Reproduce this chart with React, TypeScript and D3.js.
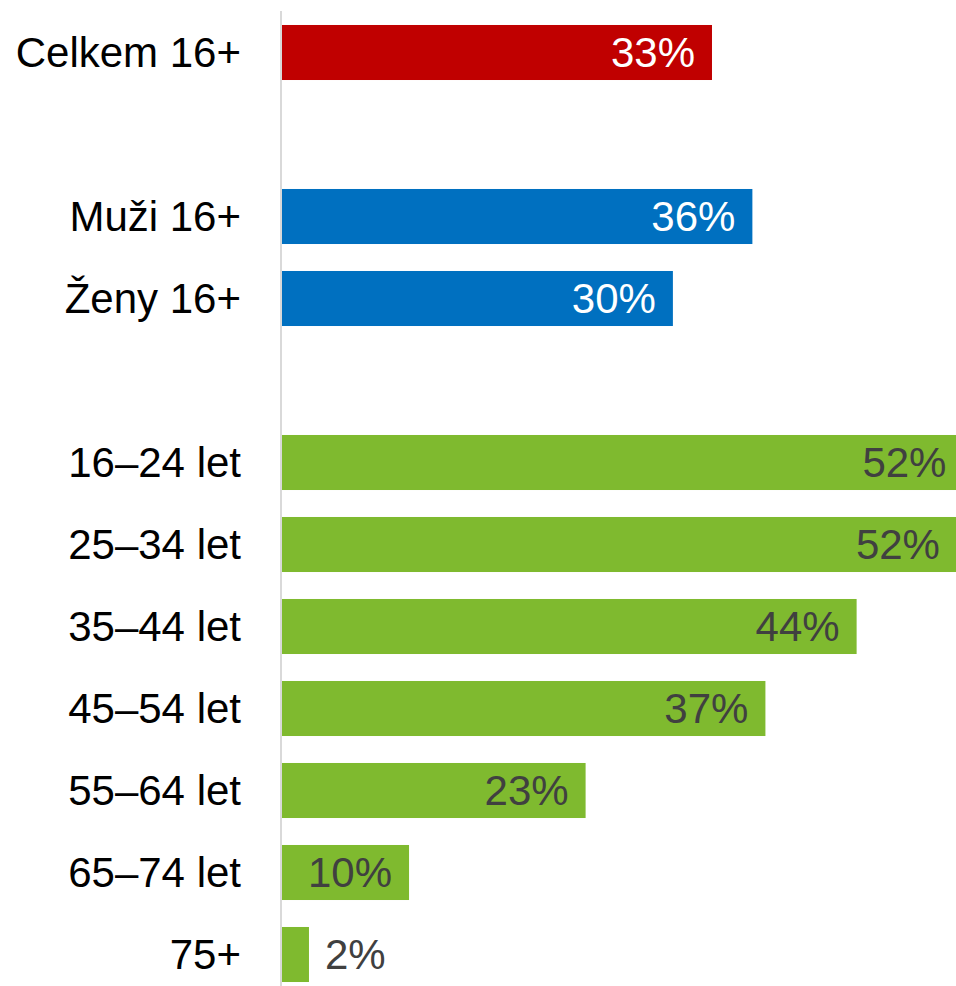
import React from "react";
import * as d3 from "d3";

const categories = ["Celkem 16+", "", "Muži 16+", "Ženy 16+", " ", "16–24 let", "25–34 let", "35–44 let", "45–54 let", "55–64 let", "65–74 let", "75+"];
const values: (number | null)[] = [33.0, null, 36.1, 30.0, null, 52.3, 51.8, 44.1, 37.1, 23.3, 9.75, 2.07];
const groups = ["total", "", "gender", "gender", "", "age", "age", "age", "age", "age", "age", "age"];

const fillColors: Record<string, string> = { total: "#C00000", gender: "#0070C0", age: "#7FBA2F" };
const textColors: Record<string, string> = { total: "#FFFFFF", gender: "#FFFFFF", age: "#404040" };

const W = 956;
const H = 986;
const x0 = 282;
const FONT = "'Liberation Sans', Arial, sans-serif";

export default function App() {
  const x = d3.scaleLinear().domain([0, 10]).range([x0, x0 + 130.3]);
  const y = d3
    .scaleBand<string>()
    .domain(categories)
    .range([11.5, 995.5])
    .paddingInner(0.329)
    .paddingOuter(0.1645);
  const fmt = (v: number) => `${Math.round(v)}%`;

  return (
    <svg width={W} height={H} style={{ position: "absolute", left: 0, top: 0 }} fontFamily={FONT}>
      {categories.map((c, i) => {
        const v = values[i];
        if (v === null) return null;
        const g = groups[i];
        const yy = y(c)!;
        const bw = y.bandwidth();
        const xe = x(v);
        const inside = xe - x0 > 100;
        return (
          <g key={i}>
            <rect x={x0} y={yy} width={xe - x0} height={bw} fill={fillColors[g]} />
            <text x={241} y={yy + bw / 2} dy="0.35em" textAnchor="end" fontSize={42} fill="#000">
              {c}
            </text>
            <text
              x={inside ? xe - 17 : xe + 16}
              y={yy + bw / 2}
              dy="0.35em"
              textAnchor={inside ? "end" : "start"}
              fontSize={42}
              fill={inside ? textColors[g] : "#404040"}
            >
              {fmt(v)}
            </text>
          </g>
        );
      })}
      <line x1={281} x2={281} y1={11} y2={H} stroke="#D9D9D9" strokeWidth={2} />
    </svg>
  );
}
